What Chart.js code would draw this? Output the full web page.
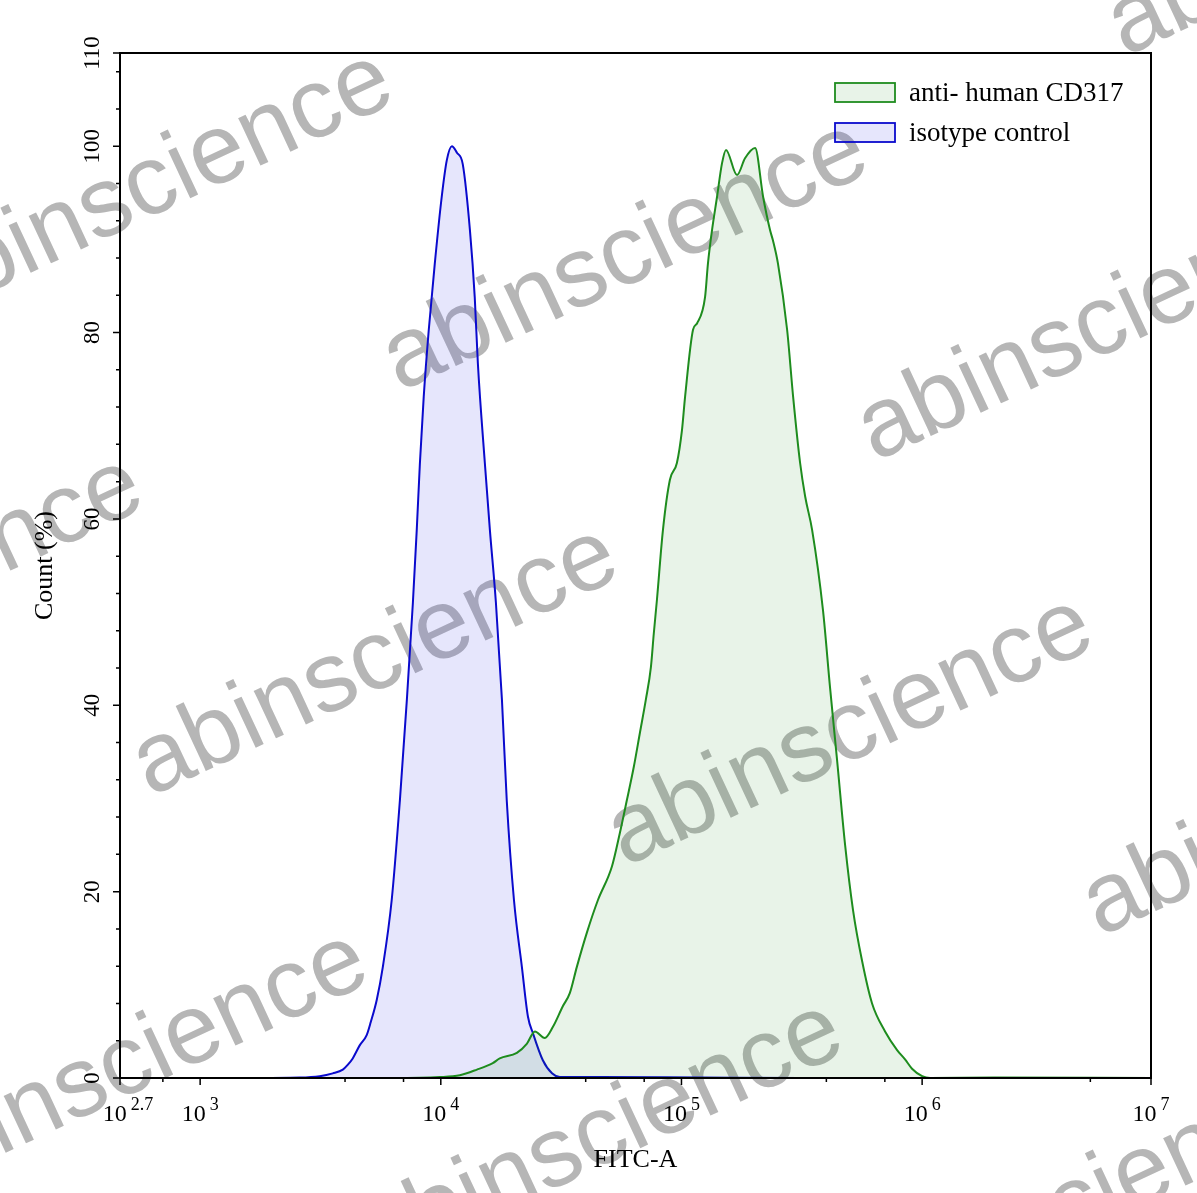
<!DOCTYPE html>
<html>
<head>
<meta charset="utf-8">
<script src="https://cdn.jsdelivr.net/npm/chart.js@4"></script>
<style>
html,body{margin:0;padding:0;background:#fff}
#divid{width:1197px;height:1193px}
</style>
</head>
<body>
<div id="divid"><canvas id="chart" width="1197" height="1193"></canvas></div>
<script>
// x values are log10(FITC-A), y values are Count (%)
const isoExp = [2.667, 3.2, 3.414, 3.497, 3.551, 3.593, 3.613, 3.634, 3.663, 3.692, 3.709, 3.734, 3.759, 3.796, 3.830, 3.859, 3.884, 3.900, 3.913, 3.929, 3.950, 3.975, 4.004, 4.025, 4.046, 4.067, 4.091, 4.121, 4.141, 4.154, 4.183, 4.204, 4.229, 4.254, 4.274, 4.304, 4.337, 4.362, 4.383, 4.424, 4.462, 4.495, 4.66, 5.08, 5.5, 6.95];
const isoCount = [0, 0, 0.05, 0.2, 0.5, 0.9, 1.4, 2.1, 3.5, 4.6, 6.0, 8.4, 11.9, 19.1, 29.8, 40.6, 51, 58.8, 65.9, 73.1, 80.3, 87.4, 94.6, 98.5, 100, 99.3, 98.1, 91, 83.8, 76.7, 66, 58.8, 51, 40.6, 29.8, 19.1, 11.9, 6.6, 4.8, 1.9, 0.5, 0.1, 0.1, 0.05, 0, 0];

const cdExp = [2.667, 3.8, 3.996, 4.079, 4.150, 4.216, 4.245, 4.316, 4.358, 4.391, 4.432, 4.466, 4.507, 4.536, 4.565, 4.607, 4.653, 4.711, 4.744, 4.773, 4.802, 4.827, 4.852, 4.873, 4.885, 4.898, 4.923, 4.952, 4.981, 5.002, 5.015, 5.048, 5.065, 5.098, 5.110, 5.127, 5.148, 5.168, 5.185, 5.231, 5.264, 5.306, 5.339, 5.368, 5.380, 5.401, 5.439, 5.464, 5.493, 5.514, 5.543, 5.588, 5.617, 5.647, 5.680, 5.713, 5.751, 5.792, 5.846, 5.896, 5.929, 5.958, 6.0, 6.033, 6.3, 6.95];
const cdCount = [0, 0, 0.1, 0.3, 0.9, 1.6, 2.1, 2.7, 3.7, 5.0, 4.3, 5.5, 7.7, 9.1, 11.9, 15.6, 19.1, 22.7, 26.3, 29.8, 33.4, 37, 40.6, 44.1, 47.7, 51.3, 58.8, 64.2, 66, 69.5, 73.1, 80.3, 81, 83.8, 87.4, 91, 94.6, 98.1, 99.6, 96.9, 98.7, 99.8, 94.6, 91, 89.9, 87.4, 80.3, 73.1, 66, 62.4, 58.8, 50.2, 42, 34, 25, 18, 12.5, 8, 5, 3, 2, 1, 0.2, 0, 0.05, 0];

const seriesNames = ['anti- human CD317', 'isotype control'];
const xTickExp = [2.7, 3, 4, 5, 6, 7];
const yTickLabels = [0, 20, 40, 60, 80, 100, 110];

const toPoints = (ex, ct) => ex.map((e, i) => ({x: Math.pow(10, e), y: ct[i]}));

const serif = '"Liberation Serif", "Times New Roman", serif';

// grey "abinscience" marks behind the curves
const watermark = {
  id: 'watermark',
  beforeDatasetsDraw(chart) {
    const ctx = chart.ctx;
    ctx.save();
    ctx.fillStyle = '#b6b6b6';
    ctx.font = '99px "Liberation Sans", Arial, sans-serif';
    ctx.textBaseline = 'alphabetic';
    for (let i = -3; i <= 3; i++) {
      for (let j = -3; j <= 3; j++) {
        const x = 150 + i * 475 + j * 250;
        const y = 797 + i * 70 - j * 405;
        if (x < -700 || x > 1250 || y < -100 || y > 1550) continue;
        ctx.save();
        ctx.translate(x, y);
        ctx.rotate(-25 * Math.PI / 180);
        ctx.fillText('abinscience', 0, 0);
        ctx.restore();
      }
    }
    ctx.restore();
  }
};

// frame, tick marks, tick labels, titles and legend
const axes = {
  id: 'axes',
  afterDraw(chart) {
    const ctx = chart.ctx, a = chart.chartArea;
    const xs = chart.scales.x, ys = chart.scales.y;
    ctx.save();
    ctx.strokeStyle = '#000';
    ctx.lineWidth = 2;
    ctx.strokeRect(a.left, a.top, a.right - a.left, a.bottom - a.top);

    ctx.lineWidth = 1.5;
    ctx.beginPath();
    xs.ticks.forEach(t => {
      const px = xs.getPixelForValue(t.value);
      const len = t.major ? 7 : 4;
      ctx.moveTo(px, a.bottom);
      ctx.lineTo(px, a.bottom + len);
    });
    ys.ticks.forEach(t => {
      const py = ys.getPixelForValue(t.value);
      const len = yTickLabels.includes(t.value) ? 7 : 4;
      ctx.moveTo(a.left - len, py);
      ctx.lineTo(a.left, py);
    });
    ctx.stroke();

    ctx.fillStyle = '#000';
    ctx.textBaseline = 'alphabetic';
    ctx.textAlign = 'left';
    xTickExp.forEach(e => {
      const px = xs.getPixelForValue(Math.min(Math.pow(10, e), xs.max));
      const sup = String(e);
      ctx.font = '24px ' + serif;
      const wb = ctx.measureText('10').width;
      ctx.font = '18px ' + serif;
      const ws = ctx.measureText(sup).width;
      const x0 = px - (wb + 4 + ws) / 2;
      ctx.font = '24px ' + serif;
      ctx.fillText('10', x0, a.bottom + 43);
      ctx.font = '18px ' + serif;
      ctx.fillText(sup, x0 + wb + 4, a.bottom + 32);
    });

    ctx.font = '23px ' + serif;
    ctx.textAlign = 'center';
    yTickLabels.forEach(v => {
      const py = ys.getPixelForValue(v);
      ctx.save();
      ctx.translate(a.left - 21, py);
      ctx.rotate(-Math.PI / 2);
      ctx.fillText(String(v), 0, 0);
      ctx.restore();
    });

    ctx.font = '26px ' + serif;
    ctx.save();
    ctx.translate(52, (a.top + a.bottom) / 2);
    ctx.rotate(-Math.PI / 2);
    ctx.fillText('Count (%)', 0, 0);
    ctx.restore();
    ctx.fillText('FITC-A', (a.left + a.right) / 2, a.bottom + 89);

    // legend
    ctx.textAlign = 'left';
    ctx.font = '27px ' + serif;
    chart.data.datasets.forEach((ds, i) => {
      const bx = a.right - 316, by = a.top + 30 + i * 40;
      ctx.fillStyle = ds.backgroundColor;
      ctx.fillRect(bx, by, 60, 19);
      ctx.strokeStyle = ds.borderColor;
      ctx.lineWidth = 1.8;
      ctx.strokeRect(bx, by, 60, 19);
      ctx.fillStyle = '#000';
      ctx.fillText(ds.label, bx + 74, by + 18);
    });
    ctx.restore();
  }
};

const xMin = Math.pow(10, 2.667);
const xMax = Math.pow(10, 6.951);

new Chart(document.getElementById('chart').getContext('2d'), {
  type: 'line',
  data: {
    datasets: [{
      label: seriesNames[0],
      data: toPoints(cdExp, cdCount),
      borderColor: '#1e8c1e',
      backgroundColor: 'rgba(30,140,30,0.1)',
      borderWidth: 2,
      fill: 'origin',
      cubicInterpolationMode: 'monotone'
    }, {
      label: seriesNames[1],
      data: toPoints(isoExp, isoCount),
      borderColor: '#0a0acd',
      backgroundColor: 'rgba(60,60,230,0.13)',
      borderWidth: 2,
      fill: 'origin',
      cubicInterpolationMode: 'monotone'
    }]
  },
  options: {
    responsive: false,
    animation: false,
    layout: {padding: {left: 120, top: 53, right: 46, bottom: 115}},
    elements: {point: {radius: 0}},
    plugins: {legend: {display: false}, tooltip: {enabled: false}},
    scales: {
      x: {
        type: 'logarithmic', display: false, min: xMin, max: xMax,
        afterBuildTicks: scale => {
          const ticks = [{value: xMin, major: true}];
          for (let e = 2; e <= 6; e++) {
            for (let m = 1; m <= 9; m++) {
              const v = m * Math.pow(10, e);
              if (v > xMin && v < xMax) ticks.push({value: v, major: m === 1});
            }
          }
          ticks.push({value: xMax, major: true});
          scale.ticks = ticks;
        }
      },
      y: {
        type: 'linear', display: false, min: 0, max: 110,
        afterBuildTicks: scale => {
          const ticks = [];
          for (let v = 0; v <= 108; v += 4) ticks.push({value: v});
          ticks.push({value: 110});
          scale.ticks = ticks;
        }
      }
    }
  },
  plugins: [watermark, axes]
});
</script>
</body>
</html>
